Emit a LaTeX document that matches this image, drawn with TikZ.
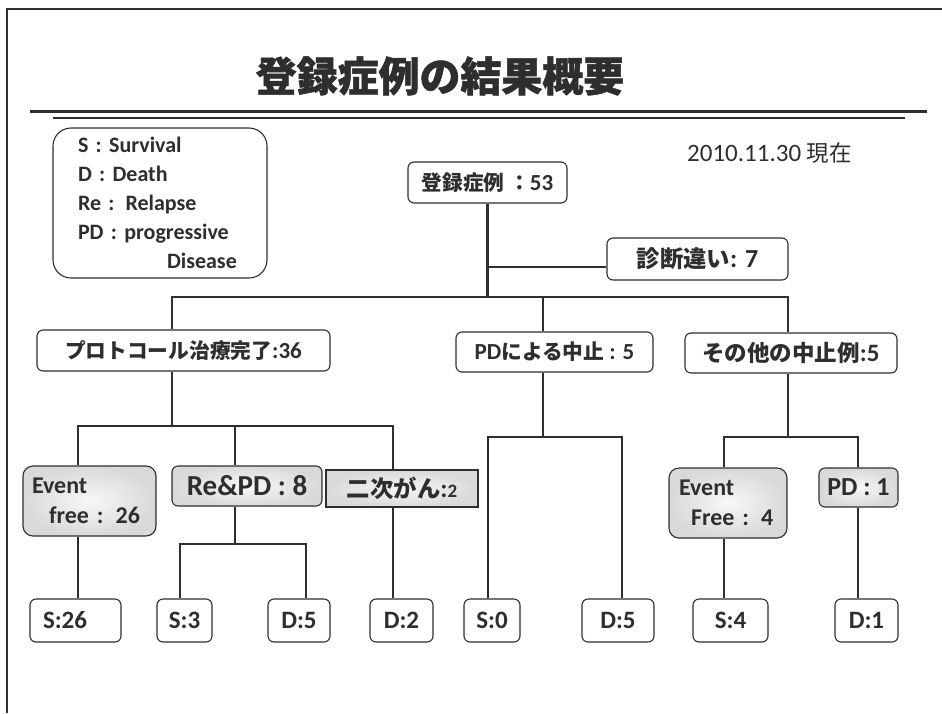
\documentclass[tikz,border=0pt]{standalone}
\usepackage{fontspec}
\setmainfont{Carlito}
\newfontfamily\jp{Noto Sans CJK JP}[Scale=0.9]
\newfontfamily\jptitle{Noto Sans CJK JP}[Scale=0.9, FakeBold=1.2]
\definecolor{ink}{HTML}{2E2E2E}
\tikzset{
  box/.style={draw=ink, line width=1.1pt, rounded corners=6pt, fill=white, inner sep=0pt,
    text=ink, font=\bfseries\fontsize{23}{26}\selectfont, align=center},
  gbox/.style={box, shading=radial, inner color=gray!6, outer color=gray!30},
  bbox/.style={box, font=\bfseries\fontsize{25}{26}\selectfont, minimum height=43pt},
  conn/.style={draw=ink, line width=2.4pt},
}
\begin{document}
\begin{tikzpicture}[x=1pt,y=-1pt]
\useasboundingbox (0,0) rectangle (942,713);
% frame, title, rules
\draw[line width=1.5pt, ink] (7,713) -- (7,9) -- (942,9);
\node[font=\jptitle\bfseries\fontsize{45.5}{46}\selectfont, text=ink] (title) at (440,76) {登録症例の結果概要};
\draw[line width=3pt, ink] (30,111) -- (927,111);
\draw[line width=2.2pt, ink] (53,118) -- (905,118);
\node[font=\fontsize{25}{25}\selectfont, text=ink, anchor=west, inner sep=0pt] (date) at (687,153) {2010.11.30 {\jp 現在}};
% legend
\node[box, font=\bfseries\fontsize{22}{29}\selectfont, minimum width=214pt, minimum height=150pt,
  rounded corners=18pt, text width=164pt, inner xsep=25pt, align=left] (legend) at (160,203)
  {S : Survival\\D : Death\\Re : Relapse\\PD : progressive\\\hspace*{89pt}Disease};
% level 0
\node[box, minimum width=159pt, minimum height=41pt] (root) at (487.5,182.5) {{\jp 登録症例 ：}53};
\node[box, font=\bfseries\fontsize{26}{28}\selectfont, minimum width=181pt, minimum height=42pt] (diag) at (697.5,259) {{\jp 診断違い}: 7};
% level 1
\node[box, minimum width=293pt, minimum height=41pt] (proto) at (183.5,350.5) {{\jp プロトコール治療完了}:36};
\node[box, minimum width=197pt, minimum height=40pt] (pdstop) at (554.5,352) {PD{\jp による中止} : 5};
\node[box, font=\bfseries\fontsize{25}{26}\selectfont, minimum width=212pt, minimum height=40pt] (other) at (791,353) {{\jp その他の中止例}:5};
% level 2
\node[gbox, minimum width=133pt, minimum height=70pt, text width=115pt, inner xsep=9pt, align=left,
  rounded corners=10pt, font=\bfseries\fontsize{24}{30}\selectfont] (ef1) at (89.5,501) {Event\\\hspace*{17pt}free : 26};
\node[gbox, font=\bfseries\fontsize{29}{30}\selectfont, minimum width=150pt, minimum height=40pt] (repd) at (247,486) {Re\&PD : 8};
\node[gbox, rounded corners=0pt, font=\bfseries\fontsize{26}{26}\selectfont, minimum width=152pt, minimum height=37pt] (niji) at (402,488.5) {{\jp 二次がん}:{\fontsize{19}{19}\selectfont 2}};
\node[gbox, minimum width=118pt, minimum height=70pt, text width=98pt, inner xsep=10pt, align=left,
  rounded corners=10pt, font=\bfseries\fontsize{24}{30}\selectfont] (ef2) at (728,503) {Event\\\hspace*{12pt}Free : 4};
\node[gbox, font=\bfseries\fontsize{26}{28}\selectfont, minimum width=79pt, minimum height=39pt] (pd1) at (858.5,487.5) {PD : 1};
% bottom
\node[bbox, minimum width=91pt, text width=65pt, inner xsep=13pt, align=left] (s26) at (75.5,620.5) {S:26};
\node[bbox, minimum width=55pt] (s3) at (184.5,620.5) {S:3};
\node[bbox, minimum width=62pt] (d5a) at (299,620.5) {D:5};
\node[bbox, minimum width=63pt] (d2) at (401.5,620.5) {D:2};
\node[bbox, minimum width=56pt] (s0) at (492,620.5) {S:0};
\node[bbox, minimum width=72pt] (d5b) at (618,620.5) {D:5};
\node[bbox, minimum width=75pt] (s4) at (730.5,620.5) {S:4};
\node[bbox, minimum width=63pt] (d1) at (866.5,620.5) {D:1};
% connectors
\coordinate (jd) at (488,267);
\coordinate (b1) at (172,297); \coordinate (b2) at (543,297); \coordinate (b3) at (788,297);
\draw[conn] (root.south) -- (root.south |- b1);
\draw[conn] (jd) -- (jd -| diag.west);
\draw[conn] (proto.north -| b1) -- (b1) -- (b3) -- (b3 |- other.north);
\draw[conn] (b2) -- (b2 |- pdstop.north);
\coordinate (c0) at (172,426); \coordinate (c1) at (78,426); \coordinate (c2) at (235,426); \coordinate (c3) at (393,426);
\draw[conn] (c0 |- proto.south) -- (c0);
\draw[conn] (ef1.north -| c1) -- (c1) -- (c3) -- (c3 |- niji.north);
\draw[conn] (c2) -- (c2 |- repd.north);
\coordinate (d0) at (543,437); \coordinate (dl) at (488,437); \coordinate (dr) at (622,437);
\draw[conn] (d0 |- pdstop.south) -- (d0);
\draw[conn] (s0.north -| dl) -- (dl) -- (dr) -- (dr |- d5b.north);
\coordinate (e0) at (788,437); \coordinate (e1) at (724,437); \coordinate (e2) at (858,437);
\draw[conn] (e0 |- other.south) -- (e0);
\draw[conn] (ef2.north -| e1) -- (e1) -- (e2) -- (e2 |- pd1.north);
\coordinate (f0) at (235,544); \coordinate (f1) at (180,544); \coordinate (f2) at (306,544);
\draw[conn] (f0 |- repd.south) -- (f0);
\draw[conn] (s3.north -| f1) -- (f1) -- (f2) -- (f2 |- d5a.north);
\draw[conn] (ef1.south -| c1) -- (c1 |- s26.north);
\draw[conn] (niji.south -| c3) -- (c3 |- d2.north);
\draw[conn] (ef2.south -| e1) -- (e1 |- s4.north);
\draw[conn] (pd1.south -| e2) -- (e2 |- d1.north);
\end{tikzpicture}
\end{document}
